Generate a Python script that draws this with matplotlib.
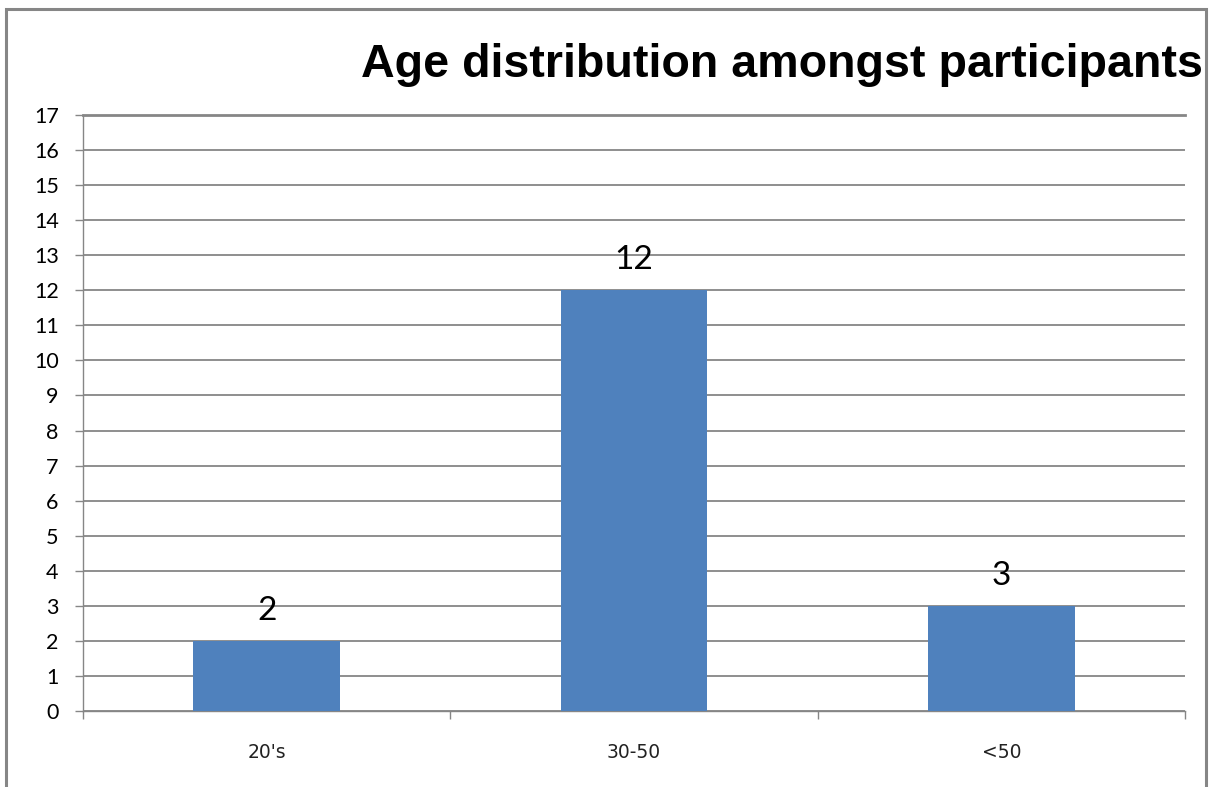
import matplotlib
matplotlib.use("Agg")
import matplotlib.pyplot as plt
from matplotlib.patches import Rectangle

categories = ["20's", "30-50", "<50"]
values = [2, 12, 3]
yticks = list(range(0, 18))
title = "Age distribution amongst participants"

W, H = 1212, 787
fig = plt.figure(figsize=(W / 100, H / 100), dpi=100)
fig.patch.set_facecolor("white")

# outer border
fig.patches.append(Rectangle((6 / W, -0.05), 1200 / W, 1 - 9 / H + 0.05,
                             transform=fig.transFigure, fill=False,
                             edgecolor="#868686", linewidth=2.2))

ax = fig.add_axes([83 / W, 1 - 711 / H, (1185 - 83) / W, (711 - 115) / H])
x = list(range(len(categories)))
ax.bar(x, values, width=0.40, color="#4F81BD", zorder=3)
ax.set_xlim(-0.5, len(categories) - 0.5)
ax.set_ylim(0, 17)
ax.set_yticks(yticks)
ax.set_yticklabels([str(t) for t in yticks], fontsize=15.5, family="Lato")
ax.yaxis.grid(True, color="#868686", linewidth=1.3, zorder=0)
ax.axhline(17, color="#868686", linewidth=2.0, zorder=1, clip_on=False)
ax.set_axisbelow(True)

ax.set_xticks(x)
ax.set_xticklabels(categories, fontsize=13.5, family="DejaVu Sans", color="#222222")
ax.tick_params(axis="x", which="major", length=0, pad=23)
ax.set_xticks([i - 0.5 for i in range(len(categories) + 1)], minor=True)
ax.tick_params(axis="x", which="minor", length=6, color="#868686", width=1)
ax.tick_params(axis="y", length=6, color="#868686", width=1, pad=11.5)

for s in ["top", "right"]:
    ax.spines[s].set_visible(False)
for s in ["left", "bottom"]:
    ax.spines[s].set_color("#868686")
    ax.spines[s].set_linewidth(1.0)

for xi, v in zip(x, values):
    ax.annotate(str(v), (xi, v), xytext=(0, 15), textcoords="offset points",
                ha="center", va="baseline", fontsize=24, family="Lato")

fig.text(1203 / W, 1 - 77 / H, title, ha="right", va="baseline",
         fontsize=33.6, fontweight="bold", family="Liberation Sans")

fig.savefig("out.png", dpi=100)
